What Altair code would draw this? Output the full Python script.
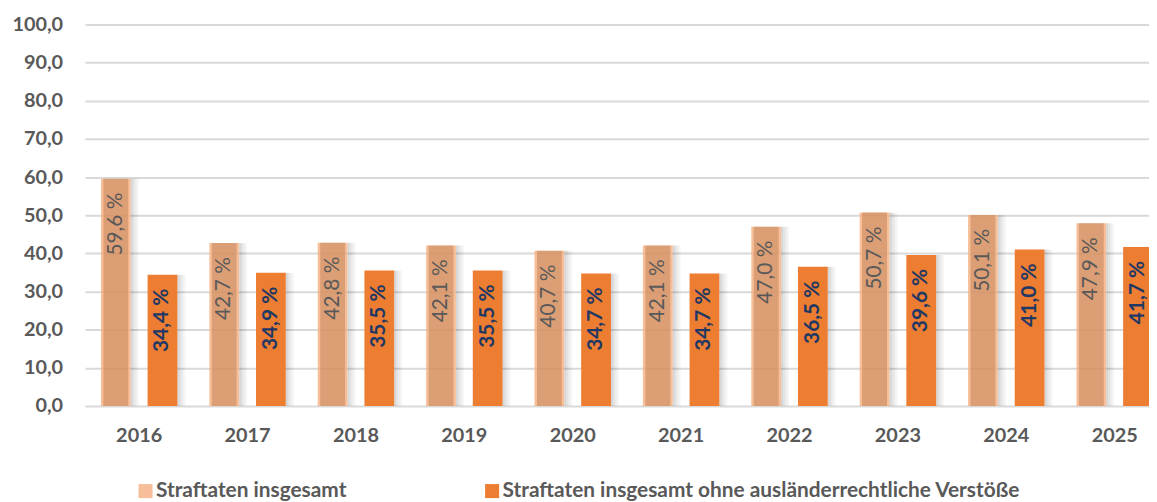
import altair as alt
import pandas as pd

years = ["2016", "2017", "2018", "2019", "2020", "2021", "2022", "2023", "2024", "2025"]
total = [59.6, 42.7, 42.8, 42.1, 40.7, 42.1, 47.0, 50.7, 50.1, 47.9]
ohne = [34.4, 34.9, 35.5, 35.5, 34.7, 34.7, 36.5, 39.6, 41.0, 41.7]
series = ["Straftaten insgesamt", "Straftaten insgesamt ohne ausländerrechtliche Verstöße"]

rows = []
for i, yr in enumerate(years):
    for s, v in ((series[0], total[i]), (series[1], ohne[i])):
        rows.append({"Jahr": yr, "Serie": s, "Wert": v,
                     "Label": f"{v:.1f} %".replace(".", ",")})
df = pd.DataFrame(rows)

FONT = "Lato"
GREY = "#595959"
OFF0 = 7.6      # start of the offset range inside each year band
OFF1 = 101.6    # end of the offset range inside each year band

x_enc = alt.X("Jahr:N", sort=years,
              scale=alt.Scale(type="band", range=[0.5, 1092], paddingInner=0, paddingOuter=0),
              axis=alt.Axis(title=None, labelAngle=0, ticks=False, domain=False,
                            labelFont=FONT, labelFontSize=20, labelFontWeight="bold",
                            labelColor=GREY, labelPadding=20))


def xo(shift=0.0):
    return alt.XOffset("Serie:N", sort=series,
                       scale=alt.Scale(type="band", domain=series,
                                       range=[OFF0 + shift, OFF1 + shift],
                                       paddingInner=0, paddingOuter=0))


y_enc = alt.Y("Wert:Q", scale=alt.Scale(domain=[0, 100], nice=False),
              axis=alt.Axis(title=None, values=list(range(0, 101, 10)), ticks=False,
                            domain=False, grid=True, gridColor="#D9D9D9", gridWidth=2,
                            labelOverlap=False,
                            labelExpr="replace(format(datum.value, '.1f'), '.', ',')",
                            labelFont=FONT, labelFontSize=20, labelFontWeight="bold",
                            labelColor=GREY, labelPadding=22))

# soft drop shadow on the right of each bar
shadows = [
    alt.Chart(df).mark_bar(width=2, color="#000000", opacity=op).encode(
        x=x_enc, xOffset=xo(sh), y=y_enc)
    for sh, op in ((16, 0.16), (18, 0.11), (20, 0.07), (22, 0.04))
]

bars = alt.Chart(df).mark_bar(width=30, strokeWidth=1.5).encode(
    x=x_enc,
    xOffset=xo(),
    y=y_enc,
    color=alt.Color("Serie:N", sort=series,
                    scale=alt.Scale(domain=series, range=["#F4B183", "#ED7D31"]),
                    legend=alt.Legend(orient="none", legendX=51, legendY=459,
                                      direction="horizontal", title=None,
                                      labelFont=FONT, labelFontSize=21,
                                      labelFontWeight="bold", labelColor=GREY,
                                      symbolType="square", symbolSize=200,
                                      columnPadding=136, labelOffset=0,
                                      labelLimit=0)),
    opacity=alt.Opacity("Serie:N", scale=alt.Scale(domain=series, range=[0.82, 1.0]),
                        legend=None),
)

inner = alt.Chart(df).transform_filter(alt.datum.Serie == series[0]).mark_bar(
    width=25, color="#B56F42", opacity=0.42).encode(
    x=x_enc, xOffset=xo(), y=y_enc)

lab1 = alt.Chart(df).transform_filter(alt.datum.Serie == series[0]).mark_text(
    angle=270, align="right", baseline="middle", dx=-14,
    font=FONT, fontSize=21, color=GREY).encode(
    x=x_enc, xOffset=xo(), y=y_enc, text="Label:N")

lab2 = alt.Chart(df).transform_filter(alt.datum.Serie == series[1]).mark_text(
    angle=270, align="right", baseline="middle", dx=-14,
    font=FONT, fontSize=21, fontWeight="bold", color="#1F3864").encode(
    x=x_enc, xOffset=xo(), y=y_enc, text="Label:N")

chart = alt.layer(*shadows, bars, inner, lab1, lab2).resolve_scale(
    xOffset="independent"
).properties(
    width=1072, height=384,
    autosize=alt.AutoSizeParams(type="none"),
    padding={"left": 77, "top": 15, "right": 0, "bottom": 95},
).configure_view(stroke=None)

chart.save("out.html", embed_options={"renderer": "svg", "actions": False})
